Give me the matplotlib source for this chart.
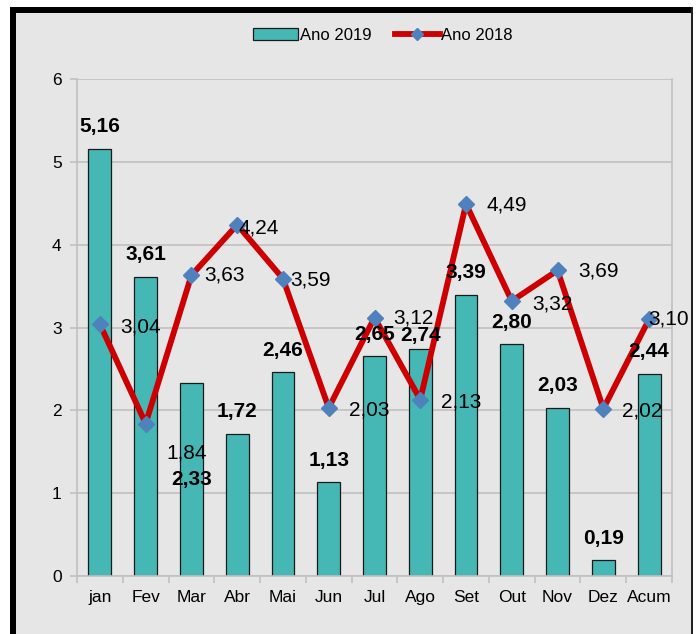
#!/usr/bin/env python3
"""Monthly comparison chart: bars for 2019, line for 2018."""

import matplotlib
matplotlib.use("Agg")
import matplotlib.pyplot as plt
from matplotlib.patches import Rectangle
from matplotlib.lines import Line2D
import numpy as np

plt.rcParams["font.family"] = ["Liberation Sans", "DejaVu Sans"]

months = ["jan", "Fev", "Mar", "Abr", "Mai", "Jun", "Jul", "Ago", "Set", "Out", "Nov", "Dez", "Acum"]
vals_2019 = [5.16, 3.61, 2.33, 1.72, 2.46, 1.13, 2.65, 2.74, 3.39, 2.80, 2.03, 0.19, 2.44]
vals_2018 = [3.04, 1.84, 3.63, 4.24, 3.59, 2.03, 3.12, 2.13, 4.49, 3.32, 3.69, 2.02, 3.10]

# label offsets in pixels (dx, dy)
bar_label_off = [22, 22, None, 22, 22, 22, 22, 14, 23, 22, 22, 22, 22]
line_label_off = [(41, -3), (41, -29), (33, 0), (21, -3), (28, -1), (41, -2),
                  (39, 0), (41, -2), (41, -1), (41, -3), (41, -1), (39, -2), (19, 0)]

BG = "#e6e6e6"
TEAL = "#45b8b6"
RED = "#cc0000"
BLUE = "#4f81bd"
GRID = "#c0c0c0"

W, H = 699, 634
fig = plt.figure(figsize=(W / 100, H / 100), dpi=100)
fig.patch.set_facecolor("white")

# grey panel with black frame (thick left/top, thin right)
fig.patches.append(Rectangle((16 / W, 0), (692 - 16) / W, (H - 13) / H,
                             transform=fig.transFigure, facecolor=BG, edgecolor="none", zorder=-3))
fig.patches.append(Rectangle((10 / W, 0), 6 / W, (H - 7) / H,
                             transform=fig.transFigure, facecolor="black", edgecolor="none", zorder=-2))
fig.patches.append(Rectangle((10 / W, (H - 13) / H), (692 - 10) / W, 6 / H,
                             transform=fig.transFigure, facecolor="black", edgecolor="none", zorder=-2))
fig.patches.append(Rectangle((691 / W, 0), 2 / W, (H - 7) / H,
                             transform=fig.transFigure, facecolor="#222222", edgecolor="none", zorder=-2))

ax = fig.add_axes([77 / W, 58 / H, (672 - 77) / W, (576 - 79) / H])
ax.set_facecolor(BG)

x = np.arange(len(months))
ax.bar(x, vals_2019, width=0.5, color=TEAL, edgecolor="#1a1a1a", linewidth=0.9, zorder=2)
ax.plot(x, vals_2018, color=RED, linewidth=4.2, marker="D", markersize=8,
        markerfacecolor=BLUE, markeredgecolor=BLUE, zorder=3)

ax.set_xlim(-0.5, len(months) - 0.5)
ax.set_ylim(0, 6)
ax.set_yticks(range(7))
ax.yaxis.grid(True, color=GRID, linewidth=1.2, zorder=0)
ax.set_axisbelow(True)

ax.set_xticks(x)
ax.set_xticklabels(months, fontsize=12.5)
ax.set_xticks(np.arange(-0.5, len(months)), minor=True)
ax.tick_params(axis="x", which="major", length=0, pad=10)
ax.tick_params(axis="x", which="minor", length=5, color=GRID, width=1.2)
ax.tick_params(axis="y", length=5, color=GRID, width=1.2, labelsize=12.5, pad=6)

for s in ax.spines.values():
    s.set_color(GRID)
    s.set_linewidth(1.2)
ax.spines["top"].set_visible(False)

# bar value labels (bold)
for i, v in enumerate(vals_2019):
    lab = f"{v:.2f}".replace(".", ",")
    off = bar_label_off[i]
    if off is None:
        ax.text(i, 1.16, lab, ha="center", va="center", fontsize=15, fontweight="bold", zorder=5)
    else:
        ax.annotate(lab, (i, v), xytext=(0, off), textcoords="offset pixels",
                    ha="center", va="center", fontsize=15, fontweight="bold", zorder=5)

# line value labels
for i, v in enumerate(vals_2018):
    lab = f"{v:.2f}".replace(".", ",")
    dx, dy = line_label_off[i]
    ax.annotate(lab, (i, v), xytext=(dx, dy), textcoords="offset pixels",
                ha="center", va="center", fontsize=15, zorder=5)

handles = [
    Rectangle((0, 0), 1, 1, facecolor=TEAL, edgecolor="#1a1a1a", linewidth=0.9),
    Line2D([], [], color=RED, linewidth=4.2, marker="D", markersize=6,
           markerfacecolor=BLUE, markeredgecolor=BLUE),
]
fig.legend(handles, ["Ano 2019", "Ano 2018"], loc="center", bbox_to_anchor=(383 / W, 1 - 35 / H),
           ncol=2, frameon=False, fontsize=12, handlelength=2.7, handleheight=0.7,
           handletextpad=0.1, columnspacing=1.4)

fig.savefig("out.png", dpi=100, facecolor="white")
